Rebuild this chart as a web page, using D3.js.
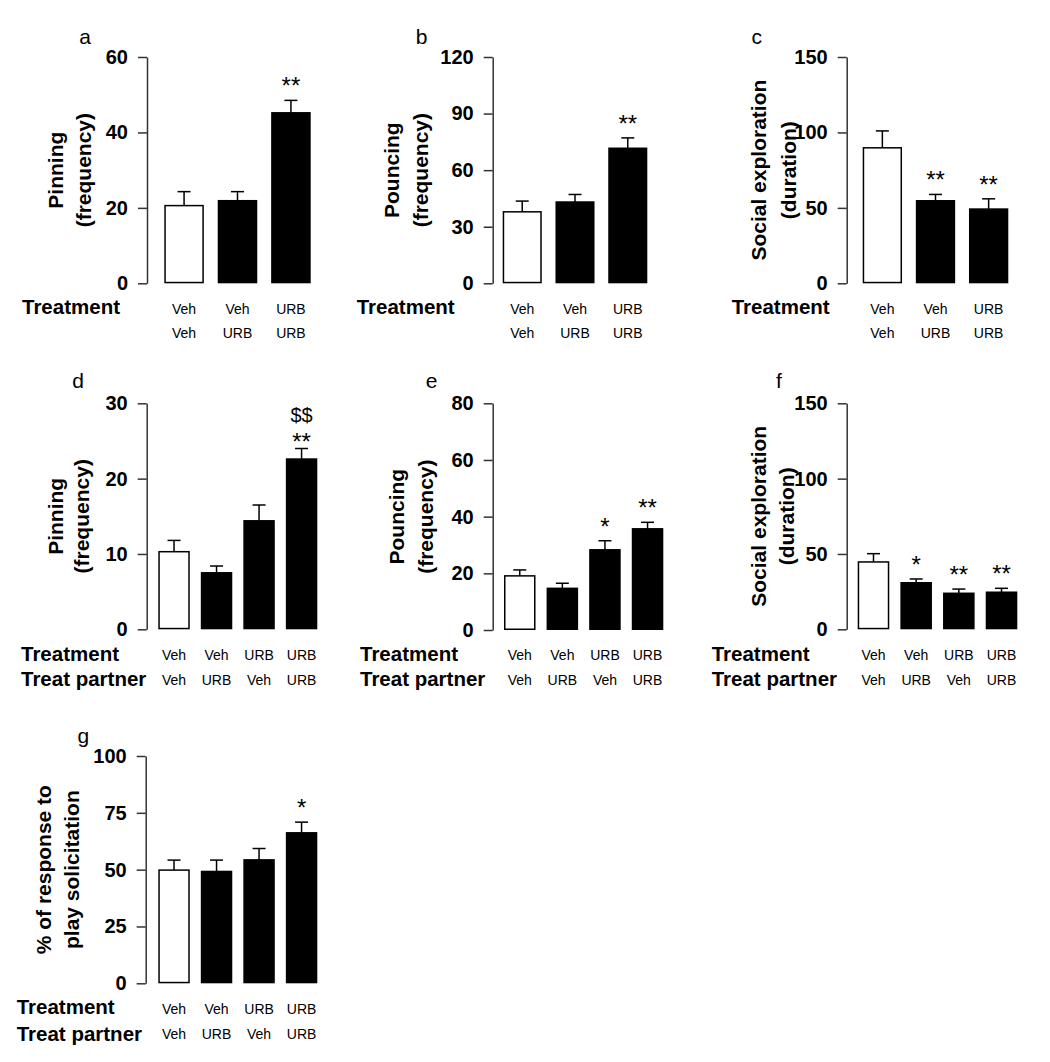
<!DOCTYPE html>
<html><head><meta charset="utf-8">
<script src="https://cdn.jsdelivr.net/npm/d3@7"></script>
<style>
html,body{margin:0;padding:0;background:#fff;}
svg{display:block;font-family:Arial,"Liberation Sans",sans-serif;}
</style></head>
<body>
<script>
// ---------- DATA ----------
const treatment3 = ["Veh", "Veh", "URB"];
const partner3   = ["Veh", "URB", "URB"];
const treatment4 = ["Veh", "Veh", "URB", "URB"];
const partner4   = ["Veh", "URB", "Veh", "URB"];

const pinningA      = [20.6, 21.9, 45.2];
const pinningAErr   = [3.7, 2.4, 3.3];
const pinningASig   = ["", "", "**"];

const pouncingB     = [37.9, 43.1, 71.6];
const pouncingBErr  = [5.7, 4.0, 5.5];
const pouncingBSig  = ["", "", "**"];

const socialC       = [89.8, 54.7, 49.2];
const socialCErr    = [11.2, 4.2, 6.8];
const socialCSig    = ["", "**", "**"];

const pinningD      = [10.3, 7.5, 14.4, 22.6];
const pinningDErr   = [1.5, 0.9, 2.1, 1.4];
const pinningDSig   = ["", "", "", "**"];
const pinningDSig2  = ["", "", "", "$$"];

const pouncingE     = [19.1, 14.7, 28.3, 35.7];
const pouncingEErr  = [2.1, 1.8, 3.2, 2.3];
const pouncingESig  = ["", "", "*", "**"];

const socialF       = [44.7, 30.9, 23.9, 24.6];
const socialFErr    = [5.5, 2.5, 2.8, 2.6];
const socialFSig    = ["", "*", "**", "**"];

const responseG     = [49.8, 49.2, 54.3, 66.2];
const responseGErr  = [4.4, 5.0, 5.0, 4.7];
const responseGSig  = ["", "", "", "*"];

const ticksA = [0, 20, 40, 60];
const ticksB = [0, 30, 60, 90, 120];
const ticksC = [0, 50, 100, 150];
const ticksD = [0, 10, 20, 30];
const ticksE = [0, 20, 40, 60, 80];
const ticksF = [0, 50, 100, 150];
const ticksG = [0, 25, 50, 75, 100];

// ---------- LAYOUT ----------
const W = 1050, H = 1062;
const svg = d3.select("body").append("svg").attr("width", W).attr("height", H);

const FONT_BIG = 20.5;
const FONT_CAT = 14;

const panels = [
  {letter:"a", lx:85, ly:44, ax:147, y0:283.3, y1:57, bx:[164.3,310.7], max:60, ticks:ticksA,
   vals:pinningA, errs:pinningAErr, sig:pinningASig, rows:[treatment3, partner3],
   rowNames:["Treatment"], rowNameX:22, rowY:[313.5, 338], rowNameY:[313.5],
   ylab:["Pinning","(frequency)"], ylabX:[55,83]},
  {letter:"b", lx:421.7, ly:44, ax:492.7, y0:283.3, y1:57, bx:[502.7,647.3], max:120, ticks:ticksB,
   vals:pouncingB, errs:pouncingBErr, sig:pouncingBSig, rows:[treatment3, partner3],
   rowNames:["Treatment"], rowNameX:356.7, rowY:[313.5, 338], rowNameY:[313.5],
   ylab:["Pouncing","(frequency)"], ylabX:[391.7,420]},
  {letter:"c", lx:756.7, ly:44, ax:846.7, y0:283.3, y1:57, bx:[862.7,1008.3], max:150, ticks:ticksC,
   vals:socialC, errs:socialCErr, sig:socialCSig, rows:[treatment3, partner3],
   rowNames:["Treatment"], rowNameX:731.7, rowY:[313.5, 338], rowNameY:[313.5],
   ylab:["Social exploration","(duration)"], ylabX:[758,788]},
  {letter:"d", lx:78, ly:388, ax:146.7, y0:629.3, y1:403.3, bx:[158.3,317.3], max:30, ticks:ticksD,
   vals:pinningD, errs:pinningDErr, sig:pinningDSig, sig2:pinningDSig2, rows:[treatment4, partner4],
   rowNames:["Treatment","Treat partner"], rowNameX:21, rowY:[660, 685], rowNameY:[661, 686],
   ylab:["Pinning","(frequency)"], ylabX:[55,81.7]},
  {letter:"e", lx:431.7, ly:388, ax:492.7, y0:630, y1:403.3, bx:[504,663.3], max:80, ticks:ticksE,
   vals:pouncingE, errs:pouncingEErr, sig:pouncingESig, rows:[treatment4, partner4],
   rowNames:["Treatment","Treat partner"], rowNameX:360, rowY:[660, 685], rowNameY:[661, 686],
   ylab:["Pouncing","(frequency)"], ylabX:[396.7,425]},
  {letter:"f", lx:779, ly:388, ax:846.7, y0:629.3, y1:403.3, bx:[857.7,1017.3], max:150, ticks:ticksF,
   vals:socialF, errs:socialFErr, sig:socialFSig, rows:[treatment4, partner4],
   rowNames:["Treatment","Treat partner"], rowNameX:711.7, rowY:[660, 685], rowNameY:[661, 686],
   ylab:["Social exploration","(duration)"], ylabX:[758.3,786.7]},
  {letter:"g", lx:83.3, ly:743, ax:145.7, y0:983.3, y1:756, bx:[158.3,317.3], max:100, ticks:ticksG,
   vals:responseG, errs:responseGErr, sig:responseGSig, rows:[treatment4, partner4],
   rowNames:["Treatment","Treat partner"], rowNameX:16.7, rowY:[1013.5, 1038.5], rowNameY:[1014, 1041],
   ylab:["% of response to","play solicitation"], ylabX:[43.3,71.7]}
];

panels.forEach(p => {
  const g = svg.append("g");
  const n = p.vals.length;
  const y = d3.scaleLinear().domain([0, p.max]).range([p.y0, p.y1]);
  const x = d3.scaleBand().domain(d3.range(n)).range(p.bx).paddingInner(0.26).paddingOuter(0);

  // panel letter
  g.append("text").attr("x", p.lx).attr("y", p.ly).attr("text-anchor","middle")
    .attr("font-size", 21).attr("fill","#000").text(p.letter);

  // y axis
  const axis = d3.axisLeft(y).tickValues(p.ticks).tickSizeInner(9).tickSizeOuter(0).tickPadding(10);
  const ag = g.append("g").attr("transform", `translate(${p.ax},0)`).call(axis);
  ag.select(".domain").attr("stroke","#333").attr("stroke-width",1.5);
  ag.selectAll(".tick line").attr("stroke","#333").attr("stroke-width",1.5);
  ag.selectAll(".tick text").attr("font-size", 20).attr("font-weight","bold")
    .attr("fill","#000").attr("font-family",'Arial,"Liberation Sans",sans-serif');

  // y label
  const cy = (p.y0 + p.y1) / 2;
  p.ylab.forEach((t, i) => {
    g.append("text")
      .attr("transform", `translate(${p.ylabX[i]},${cy}) rotate(-90)`)
      .attr("text-anchor","middle").attr("dy","0.36em")
      .attr("font-size", 21).attr("font-weight","bold").attr("fill","#000")
      .text(t);
  });

  // error bars
  p.vals.forEach((v, i) => {
    const cx = x(i) + x.bandwidth() / 2;
    const top = y(v + p.errs[i]);
    g.append("line").attr("x1", cx).attr("x2", cx).attr("y1", y(v)).attr("y2", top)
      .attr("stroke","#000").attr("stroke-width",1.5);
    g.append("line").attr("x1", cx - 6.5).attr("x2", cx + 6.5).attr("y1", top).attr("y2", top)
      .attr("stroke","#000").attr("stroke-width",1.5);
  });

  // bars
  g.selectAll("rect.bar").data(p.vals).join("rect").attr("class","bar")
    .attr("x", (d, i) => x(i) + 0.75)
    .attr("width", x.bandwidth() - 1.5)
    .attr("y", d => y(d))
    .attr("height", d => y(0) - y(d) - 0.75)
    .attr("fill", (d, i) => i === 0 ? "#fff" : "#000")
    .attr("stroke","#000").attr("stroke-width",1.5);

  // significance
  p.vals.forEach((v, i) => {
    const cx = x(i) + x.bandwidth() / 2;
    const top = y(v + p.errs[i]);
    const hasSig2 = p.sig2 && p.sig2[i];
    if (p.sig[i]) {
      g.append("text").attr("x", cx).attr("y", hasSig2 ? top + 1 : top - 6)
        .attr("text-anchor","middle").attr("font-size", 24).attr("fill","#000")
        .text(p.sig[i]);
    }
    if (hasSig2) {
      g.append("text").attr("x", cx).attr("y", top - 26.5)
        .attr("text-anchor","middle").attr("font-size", 20).attr("fill","#000")
        .text(p.sig2[i]);
    }
  });

  // category labels
  p.rows.forEach((row, r) => {
    row.forEach((t, i) => {
      g.append("text").attr("x", x(i) + x.bandwidth() / 2).attr("y", p.rowY[r])
        .attr("text-anchor","middle").attr("font-size", FONT_CAT).attr("fill","#000").text(t);
    });
  });
  p.rowNames.forEach((t, r) => {
    g.append("text").attr("x", p.rowNameX).attr("y", p.rowNameY[r])
      .attr("font-size", FONT_BIG).attr("font-weight","bold").attr("fill","#000").text(t);
  });
});
</script>
</body></html>
